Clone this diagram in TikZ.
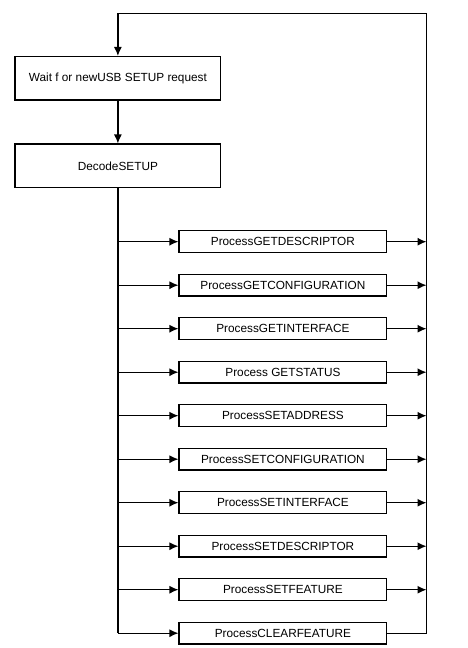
\documentclass[tikz,border=0pt]{standalone}
\usepackage{fontspec}
\setmainfont{Liberation Sans}
\usetikzlibrary{positioning,arrows.meta}
\tikzset{
  bigbox/.style={draw, line width=1.2bp, minimum width=205.7bp, minimum height=43.5bp, inner sep=0pt,
                 font=\fontsize{11.8bp}{14bp}\selectfont},
  procbox/.style={draw, line width=1.2bp, minimum width=207.7bp, minimum height=21.7bp, inner sep=0pt,
                  font=\fontsize{11.8bp}{14bp}\selectfont},
  trunk/.style={line width=1.8bp}
}
\begin{document}
\begin{tikzpicture}[x=1bp, y=-1bp, line width=1.2bp, >={Latex[length=9bp,width=8bp]}, node distance=20.6bp]
  \useasboundingbox (0,0) rectangle (468,648);
  % koordinate
  \coordinate (railtop) at (426.5,13.3);
  % bloki
  \node [bigbox] (wait) at (117.9,78.3) {Wait f or newUSB SETUP request};
  \node [bigbox] (decode) at (117.9,165.8) {DecodeSETUP};
  \node [procbox] (getdesc) at (282.9,241.7) {ProcessGETDESCRIPTOR};
  \node [procbox, below=of getdesc] (getconf) {ProcessGETCONFIGURATION};
  \node [procbox, below=of getconf] (getiface) {ProcessGETINTERFACE};
  \node [procbox, below=of getiface] (getstatus) {Process GETSTATUS};
  \node [procbox, below=of getstatus] (setaddr) {ProcessSETADDRESS};
  \node [procbox, below=of setaddr] (setconf) {ProcessSETCONFIGURATION};
  \node [procbox, below=of setconf] (setiface) {ProcessSETINTERFACE};
  \node [procbox, below=of setiface] (setdesc) {ProcessSETDESCRIPTOR};
  \node [procbox, below=of setdesc] (setfeat) {ProcessSETFEATURE};
  \node [procbox, below=of setfeat] (clrfeat) {ProcessCLEARFEATURE};
  % puscice
  \draw [->] (wait) -- (decode);
  \draw [trunk] (decode.south) -- (decode.south |- clrfeat);
  \draw [->] (decode.south |- clrfeat) -- (clrfeat);
  \draw [->] (decode.south |- getdesc) -- (getdesc);
  \draw [->] (decode.south |- getconf) -- (getconf);
  \draw [->] (decode.south |- getiface) -- (getiface);
  \draw [->] (decode.south |- getstatus) -- (getstatus);
  \draw [->] (decode.south |- setaddr) -- (setaddr);
  \draw [->] (decode.south |- setconf) -- (setconf);
  \draw [->] (decode.south |- setiface) -- (setiface);
  \draw [->] (decode.south |- setdesc) -- (setdesc);
  \draw [->] (decode.south |- setfeat) -- (setfeat);
  % desno
  \draw [->] (getdesc) -- (getdesc -| railtop);
  \draw [->] (getconf) -- (getconf -| railtop);
  \draw [->] (getiface) -- (getiface -| railtop);
  \draw [->] (getstatus) -- (getstatus -| railtop);
  \draw [->] (setaddr) -- (setaddr -| railtop);
  \draw [->] (setconf) -- (setconf -| railtop);
  \draw [->] (setiface) -- (setiface -| railtop);
  \draw [->] (setdesc) -- (setdesc -| railtop);
  \draw [->] (setfeat) -- (setfeat -| railtop);
  \draw [->] (clrfeat) -- (clrfeat -| railtop) -- (railtop) -| (wait);
\end{tikzpicture}
\end{document}
